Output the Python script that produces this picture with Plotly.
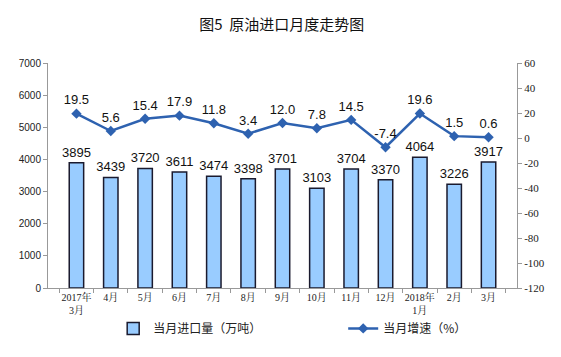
import plotly.graph_objects as go

categories = ["2017年<br>3月", "4月", "5月", "6月", "7月", "8月", "9月", "10月", "11月", "12月", "2018年<br>1月", "2月", "3月"]
imports = [3895, 3439, 3720, 3611, 3474, 3398, 3701, 3103, 3704, 3370, 4064, 3226, 3917]
growth = [19.5, 5.6, 15.4, 17.9, 11.8, 3.4, 12.0, 7.8, 14.5, -7.4, 19.6, 1.5, 0.6]
right_ticks = [60, 40, 20, 0, -20, -40, -60, -80, -100, -120]

fig = go.Figure()
fig.add_trace(go.Bar(
    x=categories, y=imports, name="当月进口量（万吨）",
    marker=dict(color="#99CCFF", line=dict(color="#1a1a2e", width=1.5)),
    width=0.42,
    text=[str(v) for v in imports], textposition="outside", constraintext="none",
    textfont=dict(family="Liberation Sans, Arial", size=13, color="#111"),
    cliponaxis=False,
))
fig.add_trace(go.Scatter(
    x=categories, y=growth, name="当月增速（%）", yaxis="y2",
    mode="lines+markers+text",
    line=dict(color="#2E62B0", width=2.5),
    marker=dict(symbol="diamond", size=8, color="#2E62B0"),
    text=[f"{v:.1f}" for v in growth], textposition="top center",
    textfont=dict(family="Liberation Sans, Arial", size=13, color="#111"),
    cliponaxis=False,
))

fig.update_layout(
    width=561, height=357,
    margin=dict(l=40, r=52, t=55, b=77, autoexpand=False),
    paper_bgcolor="white", plot_bgcolor="white",
    title=dict(text="图5  原油进口月度走势图", x=0.488, xanchor="center", y=0.952, yanchor="middle",
               font=dict(family="Noto Sans CJK SC", size=15, color="#111")),
    showlegend=True,
    legend=dict(orientation="h", x=0.139, xanchor="left", y=-0.115, yanchor="top",
                bgcolor="rgba(0,0,0,0)",
                font=dict(family="Noto Sans CJK SC", size=12, color="#222"),
                entrywidth=185, entrywidthmode="pixels", itemwidth=30, tracegroupgap=0),
    xaxis=dict(showline=True, linecolor="#999", linewidth=1, tickangle=0, automargin=False,
               ticks="outside", tickson="boundaries", ticklen=4, tickcolor="#999",
               tickfont=dict(family="Liberation Serif, Noto Serif CJK SC, serif", size=10, color="#222"),
               showgrid=False),
    yaxis=dict(range=[0, 7000], dtick=1000, showline=True, linecolor="#999", linewidth=1,
               ticks="outside", ticklen=4, tickcolor="#999", showgrid=False, automargin=False,
               tickfont=dict(family="Liberation Sans, Arial", size=10, color="#222")),
    yaxis2=dict(range=[-120, 60], tickvals=right_ticks, ticktext=[str(v) for v in right_ticks],
                overlaying="y", side="right", automargin=False,
                showline=True, linecolor="#999", linewidth=1,
                ticks="outside", ticklen=4, tickcolor="#999", showgrid=False, zeroline=False,
                tickfont=dict(family="Liberation Serif, serif", size=11, color="#222")),
    bargap=0.58,
)

fig.write_html("out.html")
